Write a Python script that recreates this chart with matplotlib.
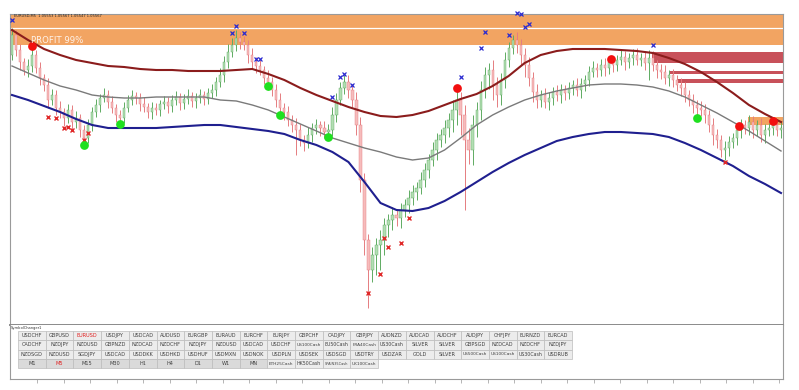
import numpy as np
import matplotlib
matplotlib.use("Agg")
import matplotlib.pyplot as plt
from matplotlib.patches import Rectangle

W, H = 799, 390

# ---- price data (points, higher = up), one value per M5 candle ----
first_open = 945
closes = [
    965, 950, 938, 930, 934, 945, 932, 922, 915, 900,
    905, 892, 888, 882, 890, 878, 882, 870, 862, 875,
    888, 895, 902, 905, 898, 892, 885, 882, 892, 900,
    904, 902, 896, 893, 888, 892, 890, 896, 898, 894,
    900, 903, 897, 901, 904, 899, 902, 905, 901, 907,
    910, 918, 925, 938, 948, 955, 962, 958, 955, 945,
    938, 934, 930, 922, 918, 910, 900, 892, 888, 880,
    875, 870, 860, 857, 865, 872, 875, 872, 868, 870,
    885, 900, 912, 918, 910, 900, 875, 820, 760, 730,
    745, 755, 760, 775, 780, 785, 782, 790, 795, 802,
    808, 812, 820, 830, 840, 850, 860, 865, 872, 880,
    890, 900, 885, 860, 850, 875, 890, 910, 925, 930,
    915, 905, 920, 940, 952, 960, 955, 945, 935, 922,
    908, 900, 905, 898, 902, 908, 905, 910, 907, 912,
    915, 910, 916, 920, 928, 932, 930, 935, 932, 938,
    935, 940, 943, 938, 942, 945, 940, 942, 937, 942,
    935, 930, 928, 922, 925, 920, 915, 912, 905, 900,
    895, 892, 890, 885, 875, 865, 860, 850, 852, 858,
    862, 870, 875, 872, 878, 870, 875, 865, 870, 872,
    875, 870, 872,
]
wick_up = [
    7, 5, 6, 4, 7, 10, 5, 6, 4, 7,
    6, 5, 7, 4, 6, 5, 7, 4, 5, 6,
    5, 6, 4, 7, 5, 6, 4, 5, 6, 5,
    6, 4, 5, 7, 4, 6, 5, 4, 6, 5,
    5, 6, 4, 5, 7, 4, 5, 6, 4, 5,
    6, 5, 7, 6, 8, 7, 8, 6, 6, 5,
    7, 5, 6, 4, 8, 5, 6, 7, 5, 6,
    5, 7, 6, 5, 8, 5, 6, 4, 7, 6,
    8, 7, 6, 7, 7, 6, 8, 8, 7, 6,
    8, 7, 10, 7, 6, 8, 5, 7, 6, 8,
    7, 6, 8, 7, 6, 8, 7, 6, 8, 7,
    10, 12, 8, 10, 12, 10, 8, 9, 8, 7,
    10, 8, 7, 8, 6, 5, 8, 6, 7, 8,
    6, 8, 5, 7, 6, 5, 7, 6, 5, 6,
    5, 7, 6, 5, 6, 7, 5, 6, 7, 5,
    6, 5, 7, 6, 5, 6, 7, 5, 6, 8,
    7, 5, 6, 7, 5, 6, 5, 7, 6, 5,
    6, 5, 7, 6, 5, 7, 6, 5, 7, 6,
    5, 7, 6, 5, 7, 6, 5, 7, 6, 5,
    6, 5, 7,
]
wick_dn = [
    5, 6, 8, 5, 7, 6, 5, 7, 6, 8,
    5, 7, 6, 8, 5, 7, 6, 7, 6, 5,
    6, 5, 7, 4, 6, 5, 7, 6, 5, 4,
    5, 6, 7, 5, 6, 7, 5, 6, 5, 7,
    6, 5, 7, 6, 5, 6, 7, 5, 6, 5,
    5, 6, 5, 7, 6, 5, 6, 7, 5, 8,
    6, 7, 5, 6, 8, 6, 7, 5, 8, 6,
    7, 25, 6, 8, 5, 7, 6, 8, 6, 5,
    6, 7, 5, 6, 8, 7, 10, 12, 15, 38,
    12, 20, 25, 15, 12, 10, 8, 10, 7, 8,
    7, 8, 6, 7, 8, 6, 10, 7, 8, 9,
    12, 15, 20, 70, 14, 15, 12, 10, 8, 14,
    15, 12, 10, 8, 7, 6, 8, 10, 12, 8,
    10, 8, 7, 6, 8, 7, 6, 8, 7, 6,
    7, 6, 8, 7, 6, 5, 7, 6, 8, 6,
    7, 6, 5, 8, 6, 7, 5, 6, 7, 17,
    6, 8, 7, 6, 8, 7, 6, 8, 7, 6,
    8, 7, 6, 8, 7, 10, 8, 7, 10, 8,
    6, 7, 8, 6, 7, 8, 6, 7, 8, 6,
    7, 6, 8,
]

# moving averages, sampled every 4th candle
ma_step = 4
ma_slow = [970, 960, 951, 945, 940, 937, 934, 933, 931, 930,
           930, 929, 929, 929, 930, 931, 926, 920, 912, 905,
           899, 893, 888, 884, 883, 885, 889, 895, 901, 906,
           914, 924, 937, 945, 949, 951, 951, 951, 950, 949,
           947, 942, 936, 928, 918, 907, 895, 886, 878]
ma_mid = [934, 927, 920, 914, 910, 905, 903, 902, 902, 903,
          903, 903, 903, 900, 899, 895, 890, 883, 876, 869,
          862, 857, 852, 848, 843, 840, 842, 850, 862, 875,
          885, 893, 900, 905, 909, 912, 915, 916, 916, 915,
          913, 909, 903, 895, 887, 878, 869, 859, 849]
ma_low = [905, 900, 894, 888, 881, 875, 872, 872, 872, 872,
          873, 874, 875, 875, 873, 871, 869, 866, 860, 855,
          848, 838, 818, 797, 790, 789, 792, 799, 808, 818,
          828, 837, 845, 852, 859, 863, 866, 868, 868, 867,
          866, 863, 857, 850, 842, 834, 824, 816, 807]

# profit band and supply zones
band_lo, band_mid, band_hi = 955, 972, 985
zone_start = [159.75, 164.25, 166.0]
zone_lo = [937, 926, 917]
zone_hi = [948, 929, 921]
box_start, box_lo, box_hi = 183.75, 875, 883

# signals
blue_x = [0, 55, 56, 58, 61, 62, 80, 82, 83, 85, 112, 117, 118, 124, 126, 127, 128, 129, 160]
blue_y = [980, 967, 974, 967, 941, 941, 903, 923, 926, 915, 923, 952, 968, 965, 987, 986, 973, 976, 955]
redx_x = [9, 11, 13, 14, 15, 18, 19, 89, 92, 93, 94, 97, 99, 178]
redx_y = [883, 882, 872, 873, 870, 860, 867, 707, 726, 762, 753, 757, 782, 838]
green_x = [18, 27, 64, 67, 79, 171]
green_y = [855, 876, 914, 885, 863, 882]
reddot_x = [5, 111, 149.5, 181.5, 190]
reddot_y = [954, 912, 941, 874, 879]

# symbol changer buttons
rows = [
    ["USDCHF", "GBPUSD", "EURUSD", "USDJPY", "USDCAD", "AUDUSD", "EURGBP", "EURAUD", "EURCHF", "EURJPY",
     "GBPCHF", "CADJPY", "GBPJPY", "AUDNZD", "AUDCAD", "AUDCHF", "AUDJPY", "CHFJPY", "EURNZD", "EURCAD"],
    ["CADCHF", "NZDJPY", "NZDUSD", "GBPNZD", "NZDCAD", "NZDCHF", "NZDJPY", "NZDUSD", "USDCAD", "USDCHF",
     "US100Cash", "EU50Cash", "FRA40Cash", "US30Cash", "SILVER", "SILVER", "GBPSGD", "NZDCAD", "NZDCHF", "NZDJPY"],
    ["NZDSGD", "NZDUSD", "SGDJPY", "USDCAD", "USDDKK", "USDHKD", "USDHUF", "USDMXN", "USDNOK", "USDPLN",
     "USDSEK", "USDSGD", "USDTRY", "USDZAR", "GOLD", "SILVER", "US500Cash", "US100Cash", "US30Cash", "USDRUB"],
    ["M1", "M5", "M15", "M30", "H1", "H4", "D1", "W1", "MN",
     "ETH25Cash", "HK50Cash", "SPAIN35Cash", "UK100Cash"],
]
active = ["EURUSD", "M5"]
timeframes = ["M1", "M5", "M15", "M30", "H1", "H4", "D1", "W1", "MN"]

frame_col = "#9a9a9a"
orange = "#f2a462"

fig = plt.figure(figsize=(W / 100, H / 100), dpi=100)
fig.patch.set_facecolor("white")

#main chart
ax = fig.add_axes([10 / W, (H - 325) / H, 773 / W, 311 / H])
n = len(closes)
ax.set_xlim(-0.5, n - 0.5)
ax.set_ylim(675, 986)
ax.set_xticks([])
ax.set_yticks([])
for s in ax.spines.values():
    s.set_color(frame_col)
    s.set_linewidth(0.8)
ax.spines["bottom"].set_linewidth(1.4)
ax.spines["bottom"].set_color("#8a8a8a")

ax.axhspan(band_lo, band_mid, color=orange, lw=0, zorder=0)
ax.axhspan(band_mid, band_hi, color=orange, lw=0, zorder=0)
ax.axhline(band_mid, color="white", lw=0.9, zorder=0.5)

for xs, lo, hi in zip(zone_start, zone_lo, zone_hi):
    ax.add_patch(Rectangle((xs, lo), n - 0.5 - xs, hi - lo, facecolor="#c8515a", lw=0, zorder=1))
ax.add_patch(Rectangle((box_start, box_lo), n - 0.5 - box_start, box_hi - box_lo,
                       facecolor=orange, lw=0, zorder=1))

# candles
c = np.array(closes, dtype=float)
o = np.array([first_open] + closes[:-1], dtype=float)
hi = np.maximum(o, c) + np.array(wick_up)
lo = np.minimum(o, c) - np.array(wick_dn)
idx = np.arange(n)
up = c >= o
dn = ~up
ax.vlines(idx[up], lo[up], hi[up], color="#5fab62", lw=0.7, zorder=2)
ax.vlines(idx[dn], lo[dn], hi[dn], color="#e57c80", lw=0.7, zorder=2)
ax.bar(idx[up], (c - o)[up], bottom=o[up], width=0.55, color="#b3deb3",
       edgecolor="#5fab62", lw=0.3, zorder=2.1)
ax.bar(idx[dn], (c - o)[dn], bottom=o[dn], width=0.55, color="#f6bcbc",
       edgecolor="#e57c80", lw=0.3, zorder=2.1)

# moving averages
ma_x = np.arange(0, n, ma_step)
ax.plot(ma_x, ma_mid, color="#7a7a7a", lw=1.0, zorder=3)
ax.plot(ma_x, ma_slow, color="#8b1c1c", lw=1.5, zorder=3)
ax.plot(ma_x, ma_low, color="#1f1f8f", lw=1.5, zorder=3)

# signals
ax.plot(blue_x, blue_y, "x", color="#2a2ad0", ms=3.2, mew=0.9, zorder=4, clip_on=False)
ax.plot(redx_x, redx_y, "x", color="#e02828", ms=3.2, mew=1.0, zorder=4)
ax.plot(green_x, green_y, "o", color="#1fe01f", ms=6.3, mew=0, zorder=4)
ax.plot(reddot_x, reddot_y, "o", color="#f20f0f", ms=6.3, mew=0, zorder=4)

ax.text(0.027, 0.915, "PROFIT 99%", transform=ax.transAxes, fontsize=6.2,
        color="#fff3ea", va="center", ha="left", zorder=5)
ax.text(0.005, 0.993, "EURUSD,M5  1.05553 1.05567 1.05547 1.05567", transform=ax.transAxes,
        fontsize=2.6, color="#222222", va="center", ha="left", zorder=5)

# symbol changer panel
pan = fig.add_axes([10 / W, (H - 379) / H, 773 / W, 54 / H])
pan.set_xlim(0, 773)
pan.set_ylim(54, 0)
pan.set_yticks([])
pan.set_xticks(np.arange(27, 773, 26.5))
pan.tick_params(axis="x", length=3, width=0.6, color="#aaaaaa", labelbottom=False)
pan.spines["top"].set_visible(False)
for k in ["left", "right", "bottom"]:
    pan.spines[k].set_color(frame_col)
    pan.spines[k].set_linewidth(0.8)

pan.text(1, 3.5, "SymbolChanger1", fontsize=2.6, color="#333333", va="center", ha="left")

x0, y0, cw, rh = 8.0, 6.0, 27.7, 9.3
for r, row in enumerate(rows):
    for j, lab in enumerate(row):
        face = "#dadada" if lab in timeframes and r == 3 else "#ececec"
        rect = Rectangle((x0 + j * cw, y0 + r * rh), cw, rh, facecolor=face,
                         edgecolor="#bcbcbc", lw=0.5)
        pan.add_patch(rect)
        col = "#e02020" if lab in active else "#404040"
        fs = min(3.6, 3.6 * 7.6 / len(lab))
        t = pan.text(x0 + (j + 0.5) * cw, y0 + (r + 0.5) * rh, lab, fontsize=fs,
                     color=col, ha="center", va="center")
        t.set_clip_path(rect)

fig.savefig("out.png", dpi=100)
